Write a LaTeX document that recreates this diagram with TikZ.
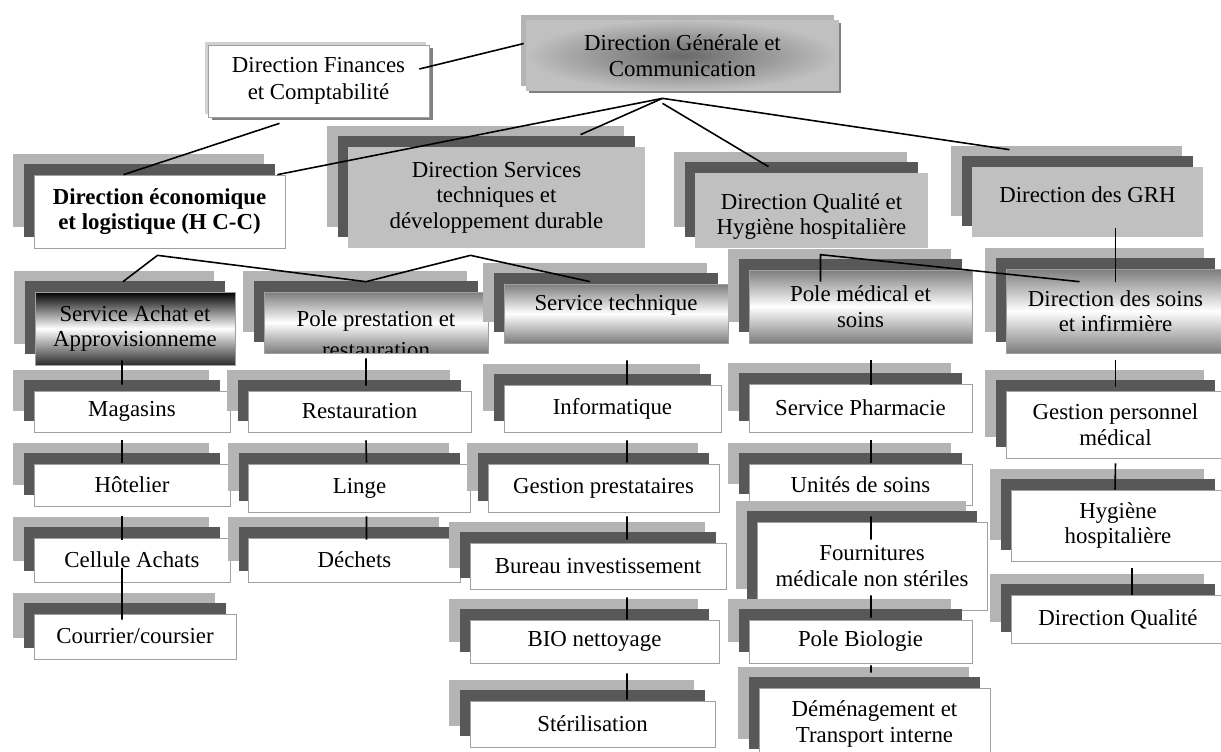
\documentclass[tikz,border=0pt]{standalone}
\usepackage{fontspec}
\setmainfont{Liberation Serif}
\usetikzlibrary{calc, shadows}
\definecolor{shlight}{RGB}{180,180,180}
\definecolor{shdark}{RGB}{88,88,88}
\definecolor{boxgray}{RGB}{192,192,192}
\definecolor{rimgray}{RGB}{160,160,160}
\definecolor{fadegray}{RGB}{125,125,125}
\definecolor{achatdark}{RGB}{45,45,45}
\definecolor{dgcore}{RGB}{105,105,105}

\begin{document}
\begin{tikzpicture}[x=.02cm, y=-.02cm, every node/.style={font=\fontsize{13}{14.5}\selectfont}]
\tikzstyle{tier} = [general shadow={fill=shlight, draw=none, shadow xshift=-.42cm, shadow yshift=.42cm}, general shadow={fill=shdark, draw=none, shadow xshift=-.2cm, shadow yshift=.22cm}]
\tikzstyle{wbox} = [rectangle, tier, fill=white, draw=rimgray, line width=.4pt, align=center, inner sep=0pt]
\tikzstyle{gbox} = [rectangle, tier, fill=boxgray, align=center, inner sep=0pt]
\tikzstyle{fbox} = [rectangle, tier, top color=fadegray, bottom color=fadegray, middle color=white, draw=rimgray, line width=.4pt, align=center, inner sep=0pt]
\tikzstyle{wire} = [line width=.9pt]

\useasboundingbox (0,0) rectangle (1221,751);

% top
\node (dg) [rectangle, general shadow={fill=shlight, draw=none, shadow xshift=-.1cm, shadow yshift=.1cm}, general shadow={fill=gray, draw=none, shadow xshift=.05cm, shadow yshift=-.05cm}, inner color=dgcore, outer color=boxgray, align=center, minimum width=6.26cm, minimum height=1.42cm] at (682.5,55.5) {Direction Générale et\\Communication};
\node (df) [rectangle, fill=white, draw=rimgray, line width=.4pt, general shadow={fill=shlight!60, draw=none, shadow xshift=-.06cm, shadow yshift=.06cm}, general shadow={fill=gray, draw=none, shadow xshift=.08cm, shadow yshift=-.06cm}, align=center, minimum width=4.42cm, minimum height=1.44cm] at (318.5,81) {Direction Finances\\[1pt]et Comptabilité};

% directions
\node (de) [wbox, minimum width=5.02cm, minimum height=1.46cm, font=\fontsize{13}{14.5}\selectfont\bfseries] at (159.5,211.5) {Direction économique\\et logistique (H C-C)};
\node (dst) [gbox, minimum width=5.94cm, minimum height=2.02cm] at (496.5,197.5) {Direction Services\\techniques et\\développement durable};
\node (dq) [gbox, minimum width=4.66cm, minimum height=1.5cm, path picture={\node[align=center] at ([yshift=-.12cm]path picture bounding box.center) {Direction Qualité et\\Hygiène hospitalière};}] at (811.5,210.5) {};
\node (grh) [gbox, minimum width=4.62cm, minimum height=1.4cm] at (1087.5,202) {\raisebox{.14cm}[\height][\depth]{Direction des GRH}};

% services
\node (saa) [fbox, top color=black, bottom color=achatdark, middle color=white, minimum width=4cm, minimum height=1.46cm] at (135,328.5) {Service Achat et\\Approvisionneme};
\node (ppr) [fbox, minimum width=4.48cm, minimum height=1.22cm, path picture={\node[align=center] at ([yshift=-.23cm]path picture bounding box.center) {Pole prestation et\\[3.5pt]restauration};}] at (376,322.5) {};
\node (st) [fbox, minimum width=4.48cm, minimum height=1.18cm] at (616,313.5) {\raisebox{.16cm}[\height][\depth]{Service technique}};
\node (pms) [fbox, minimum width=4.46cm, minimum height=1.46cm] at (860.5,306.5) {Pole médical et\\soins};
\node (dsi) [fbox, minimum width=4.38cm, minimum height=1.68cm] at (1115.5,311) {Direction des soins\\et infirmière};

% column 1
\node (mag) [wbox, minimum width=3.92cm, minimum height=.82cm, below of=saa, xshift=-.06cm, yshift=-.66cm] {Magasins};
\node (hot) [wbox, minimum width=3.92cm, minimum height=.84cm, below of=mag, yshift=-.47cm] {Hôtelier};
\node (cel) [wbox, minimum width=3.92cm, minimum height=.88cm, below of=hot, yshift=-.5cm] {Cellule Achats};
\node (cour) [wbox, minimum width=4.04cm, minimum height=.9cm, below of=cel, xshift=.06cm, yshift=-.53cm] {Courrier/coursier};

% column 2
\node (rest) [wbox, minimum width=4.46cm, minimum height=.82cm, below of=ppr, xshift=-.33cm, yshift=-.78cm] {Restauration};
\node (linge) [wbox, minimum width=4.44cm, minimum height=.96cm, below of=rest, yshift=-.53cm] {Linge};
\node (dech) [wbox, minimum width=4.24cm, minimum height=.88cm, below of=linge, xshift=-.1cm, yshift=-.44cm] {Déchets};

% column 3
\node (info) [wbox, minimum width=4.34cm, minimum height=.94cm, below of=st, xshift=-.07cm, yshift=-.9cm] {Informatique};
\node (gp) [wbox, minimum width=4.62cm, minimum height=.96cm, below of=info, xshift=-.18cm, yshift=-.59cm] {Gestion prestataires};
\node (bi) [wbox, minimum width=5.12cm, minimum height=.92cm, below of=gp, xshift=-.11cm, yshift=-.56cm] {Bureau investissement};
\node (bio) [wbox, minimum width=4.98cm, minimum height=.86cm, below of=bi, xshift=-.07cm, yshift=-.51cm] {BIO nettoyage};
\node (ster) [wbox, minimum width=4.9cm, minimum height=.92cm, below of=bio, xshift=-.04cm, yshift=-.65cm] {Stérilisation};

% column 4
\node (sp) [wbox, minimum width=4.46cm, minimum height=.96cm, below of=pms, yshift=-1.03cm] {Service Pharmacie};
\node (uds) [wbox, minimum width=4.46cm, minimum height=.82cm, below of=sp, yshift=-.53cm] {Unités de soins};
\node (fou) [wbox, minimum width=4.6cm, minimum height=1.76cm, below of=uds, xshift=.23cm, yshift=-.63cm] {Fournitures\\médicale non stériles};
\node (pb) [wbox, minimum width=4.46cm, minimum height=.86cm, below of=fou, xshift=-.23cm, yshift=-.51cm] {Pole Biologie};
\node (dem) [wbox, minimum width=4.62cm, minimum height=1.44cm, below of=pb, xshift=.28cm, yshift=-.65cm] {Déménagement et\\Transport interne};

% column 5
\node (gpm) [wbox, minimum width=4.38cm, minimum height=1.34cm, below of=dsi, yshift=-1.27cm] {Gestion personnel\\médical};
\node (hyg) [wbox, minimum width=4.28cm, minimum height=1.42cm, below of=gpm, xshift=.05cm, yshift=-1.02cm] {Hygiène\\hospitalière};
\node (dql) [wbox, minimum width=4.28cm, minimum height=.96cm, below of=hyg, yshift=-.87cm] {Direction Qualité};

% links to the top
\coordinate (hub) at ($(dg.south)+(-20,7)$);
\draw[wire] ($(df.east)+(-10,-12)$) -- ($(dg.west)+(-2,-12)$);
\draw[wire] ($(df.south)+(-39,6)$) -- ($(de.north)+(-36,0)$);
\draw[wire] (hub) -- ($(de.north east)+(-8,0)$);
\draw[wire] (hub) -- ($(dst.north)+(84,-12)$);
\draw[wire] ($(hub)+(0,5)$) -- ($(dq.north)+(-43,-6)$);
\draw[wire] (hub) -- ($(grh.north)+(-78,-17)$);

% links to the services
\coordinate (kde) at ($(de.south)+(-2,7)$);
\coordinate (kdst) at ($(dst.south)+(-26,7)$);
\draw[wire] ($(saa.north)+(-12,-10)$) -- (kde) -- ($(ppr.north)+(-10,-10)$) -- (kdst) -- ($(st.north)+(-26,-2)$);
\draw[wire] ($(pms.north)+(-40,12)$) -- ($(pms.north)+(-40,-15)$) -- ($(dsi.north)+(-36,13)$);
\draw[wire] ($(grh.south)+(28,-9)$) -- ($(dsi.north)+(0,13)$);

% columns
\draw[wire] ($(saa.south)+(-13,-5)$) -- ($(mag.north)+(-10,-6)$);
\draw[wire] ($(mag.south)+(-10,8)$) -- ($(hot.north)+(-10,-1)$);
\draw[wire] ($(hot.south)+(-10,10)$) -- ($(cel.north)+(-10,2)$);
\draw[wire] ($(cel.center)+(-10,8)$) -- ($(cour.north)+(-13,6)$);

\draw[wire] ($(ppr.south)+(-10,5)$) -- ($(rest.north)+(6.5,-5)$);
\draw[wire] ($(rest.south)+(6.5,8)$) -- ($(linge.north)+(7,-1)$);
\draw[wire] ($(linge.south)+(7,4)$) -- ($(dech.north)+(12,2)$);

\draw[wire] ($(st.south)+(11,17)$) -- ($(info.north)+(14.5,0)$);
\draw[wire] ($(info.south)+(14.5,8)$) -- ($(gp.north)+(23.5,-1)$);
\draw[wire] ($(gp.south)+(23.5,4)$) -- ($(bi.north)+(29,-3)$);
\draw[wire] ($(bi.south)+(29,8)$) -- ($(bio.north)+(32.5,0)$);
\draw[wire] ($(bio.south)+(32.5,10)$) -- ($(ster.north)+(34.5,-1)$);

\draw[wire] ($(pms.south)+(10.5,17)$) -- ($(sp.north)+(10.5,1)$);
\draw[wire] ($(sp.south)+(10.5,8)$) -- ($(uds.north)+(10.5,-1)$);
\draw[wire] ($(uds.south)+(10.5,11)$) -- ($(fou.north)+(-1,18)$);
\draw[wire] ($(fou.south)+(-1,-15)$) -- ($(pb.north)+(10.5,-2)$);
\draw[wire] ($(pb.south)+(10.5,2)$) -- ($(dem.north)+(-3.5,-15)$);

\draw[wire] ($(dsi.south)+(0,7)$) -- ($(gpm.north)+(0,-4)$);
\draw[wire] ($(gpm.south)+(0,5)$) -- ($(hyg.north)+(-3,0)$);
\draw[wire] ($(hyg.south)+(14,7)$) -- ($(dql.north)+(14,0)$);

\end{tikzpicture}
\end{document}
